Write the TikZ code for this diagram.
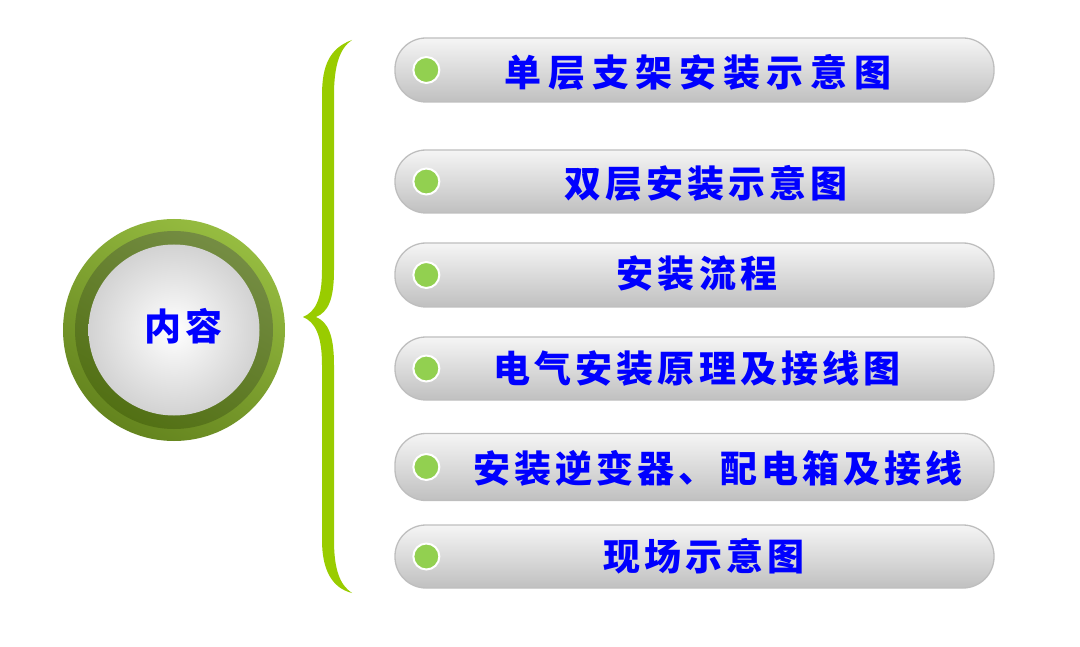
\documentclass[tikz,border=0pt]{standalone}
\usepackage{fontspec}
\usepackage{xcolor}
\newfontfamily\cjk[LetterSpace=11]{Noto Sans CJK SC}
\newfontfamily\cjkwide[LetterSpace=18]{Noto Sans CJK SC}
\usetikzlibrary{
    calc,
    positioning
}
\definecolor{braceGreen}{RGB}{153,204,0}
\definecolor{dotGreen}{RGB}{146,208,80}
\definecolor{ringLight}{RGB}{150,188,64}
\definecolor{ringDark}{RGB}{100,132,30}
\definecolor{bandDark}{RGB}{82,112,20}
\definecolor{barTop}{RGB}{245,245,245}
\definecolor{barBot}{RGB}{192,192,192}
\definecolor{barLine}{RGB}{190,190,190}
\tikzset{
    bar/.style={rounded corners=31pt, top color=barTop, bottom color=barBot,
        draw=barLine, line width=1.3pt, minimum width=599pt, inner sep=0pt},
    dot/.style={circle, fill=dotGreen, draw=white, line width=2pt,
        minimum size=26pt, inner sep=0pt},
    itemtext/.style={text=blue, inner sep=0pt, text height=33pt, text depth=4pt,
        font=\cjk\bfseries\fontsize{37}{37}\selectfont}
}

\begin{document}
\begin{tikzpicture}[x=1pt, y=-1pt]
    \useasboundingbox (0, 0) rectangle (1080, 647);
    % circle on the left
    \node[circle, minimum size=222pt, inner sep=0pt,
        top color=ringLight, bottom color=ringDark, shading angle=-30] (ring) at (174, 330) {};
    \node[circle, minimum size=198pt, inner sep=0pt,
        top color=bandDark!80, bottom color=bandDark, shading angle=-30] (band) at (ring.center) {};
    \node[circle, minimum size=171pt, inner sep=0pt,
        inner color=white, outer color=gray!35] (ball) at (ring.center) {};
    \node[itemtext] (title) at (184, 326) {内容};
    % brace
    \fill[braceGreen]
        (352, 40) .. controls (330, 48) and (322, 65) .. (322, 95)
        -- (322, 270) .. controls (322, 300) and (315, 312) .. (303, 317)
        .. controls (315, 322) and (322, 335) .. (322, 365)
        -- (322, 540) .. controls (322, 570) and (332, 588) .. (352, 593)
        .. controls (340, 585) and (334, 570) .. (334, 540)
        -- (334, 365) .. controls (334, 335) and (328, 322) .. (316, 317)
        .. controls (328, 312) and (334, 300) .. (334, 270)
        -- (334, 95) .. controls (334, 65) and (340, 48) .. (352, 40) -- cycle;
    % bars
    \node[bar, minimum height=64pt] (item1) at (694.5, 70) {};
    \node[bar, minimum height=63pt] (item2) at (694.5, 181.5) {};
    \node[bar, minimum height=64pt] (item3) at (694.5, 275) {};
    \node[bar, minimum height=63pt] (item4) at (694.5, 368.5) {};
    \node[bar, minimum height=67pt] (item5) at (694.5, 467) {};
    \node[bar, minimum height=63pt] (item6) at (694.5, 556.5) {};
    \foreach \i in {1,...,6}
        \node[dot] (dot\i) at ($(item\i.west) + (32, 0)$) {};
    % texts
    \node[itemtext, font=\cjkwide\bfseries\fontsize{37}{37}\selectfont] (txt1) at (698, 72) {单层支架安装示意图};
    \node[itemtext] (txt2) at (706, 183) {双层安装示意图};
    \node[itemtext] (txt3) at (697, 273) {安装流程};
    \node[itemtext] (txt4) at (697, 368) {电气安装原理及接线图};
    \node[itemtext] (txt5) at (718, 468) {安装逆变器、配电箱及接线};
    \node[itemtext] (txt6) at (704, 556) {现场示意图};
\end{tikzpicture}
\end{document}
